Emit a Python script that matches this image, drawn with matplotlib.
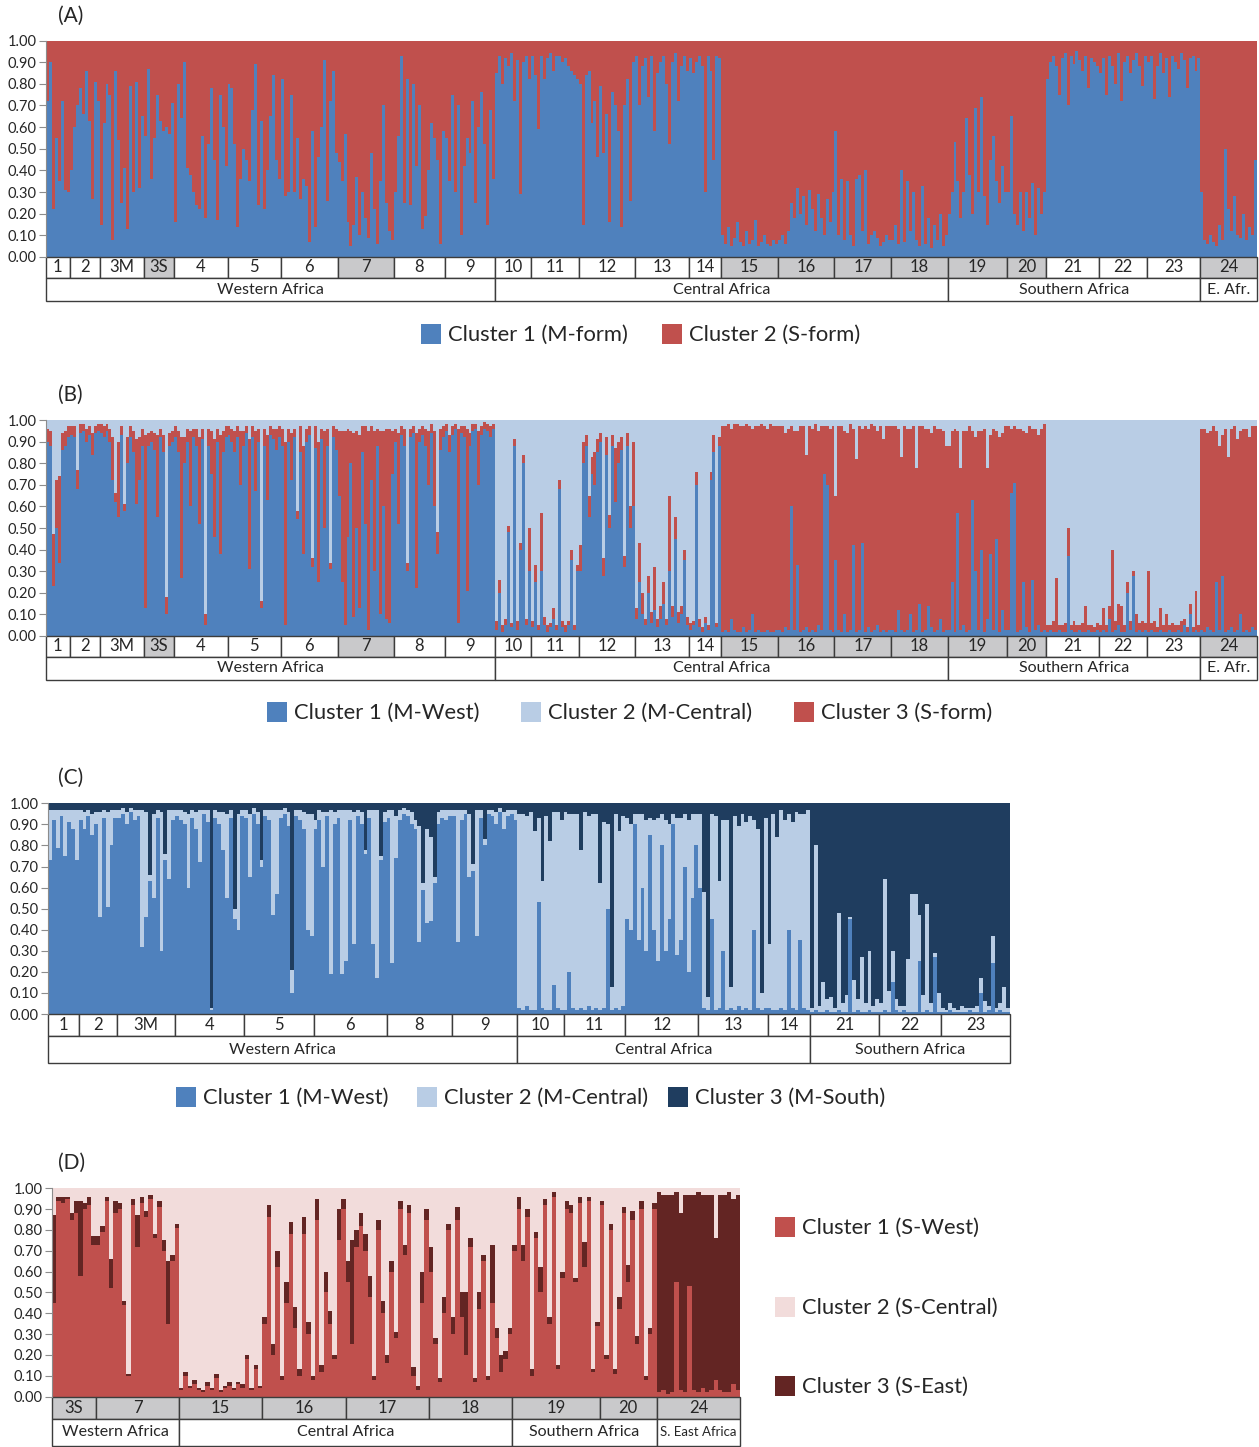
import numpy as np
import matplotlib.pyplot as plt
from matplotlib.patches import Rectangle

plt.rcParams['font.family'] = ['Lato', 'DejaVu Sans']

W, H = 1259, 1447

BLUE = '#4F81BD'
RED = '#C0504D'
LBLUE = '#B9CDE5'
NAVY = '#1F3D5F'
PINK = '#F2DCDB'
DRED = '#632523'
GRAY = '#C9C9CB'
LINE = '#3C3C3C'
TXT = '#262626'

# populations (order as sampled) and the S-form ones that get shaded cells
pops_all = ['1', '2', '3M', '3S', '4', '5', '6', '7', '8', '9', '10', '11', '12',
            '13', '14', '15', '16', '17', '18', '19', '20', '21', '22', '23', '24']
s_form = ['3S', '7', '15', '16', '17', '18', '19', '20', '24']
pops_m = ['1', '2', '3M', '4', '5', '6', '8', '9', '10', '11', '12', '13', '14',
          '21', '22', '23']

regions_ab = [('Western Africa', '1', '9'), ('Central Africa', '10', '18'),
              ('Southern Africa', '19', '23'), ('E. Afr.', '24', '24')]
regions_c = [('Western Africa', '1', '9'), ('Central Africa', '10', '14'),
             ('Southern Africa', '21', '23')]
regions_d = [('Western Africa', '3S', '7'), ('Central Africa', '15', '18'),
             ('Southern Africa', '19', '20'), ('S. East Africa', '24', '24')]

# (A) K=2, % membership in cluster 1 (M-form), one value per individual bar
A_c1 = {
    '1': [72, 90, 22, 55, 35, 72, 31, 30],
    '2': [40, 60, 70, 78, 66, 86, 63, 27, 81, 72],
    '3M': [15, 62, 80, 75, 8, 86, 54, 25, 41, 13, 79, 30, 81, 32, 65],
    '3S': [56, 87, 36, 55, 75, 63, 58, 60, 57, 71],
    '4': [16, 80, 64, 90, 41, 38, 30, 24, 22, 56, 18, 52, 78, 45, 17, 75, 60, 42],
    '5': [80, 78, 52, 14, 36, 50, 45, 35, 68, 89, 24, 63, 22, 40, 65, 84, 45, 36],
    '6': [82, 28, 30, 75, 30, 55, 27, 36, 33, 7, 58, 14, 46, 60, 91, 26, 72, 86, 48],
    '7': [44, 35, 57, 16, 5, 15, 37, 10, 30, 18, 9, 48, 22, 6, 35, 70, 25, 12, 8],
    '8': [30, 56, 93, 25, 82, 24, 80, 42, 70, 13, 19, 40, 62, 55, 45, 6, 58],
    '9': [55, 35, 75, 30, 70, 10, 42, 55, 48, 72, 25, 60, 76, 52, 15, 68, 36],
    '10': [85, 93, 80, 92, 88, 94, 72, 91, 29, 90, 93, 82],
    '11': [93, 84, 59, 93, 82, 92, 94, 86, 93, 93, 90, 92, 88, 86, 84, 82],
    '12': [80, 15, 84, 86, 62, 72, 46, 79, 48, 66, 16, 76, 70, 58, 14, 70, 82, 26, 90],
    '13': [93, 70, 88, 92, 74, 93, 58, 85, 90, 93, 80, 52, 90, 94, 72, 88, 93, 86],
    '14': [92, 85, 90, 93, 88, 30, 93, 86, 45, 93, 92],
    '15': [10, 6, 14, 5, 9, 16, 7, 5, 12, 6, 8, 17, 5, 7, 10, 6, 5, 8, 6],
    '16': [8, 10, 6, 12, 25, 18, 32, 20, 28, 15, 31, 22, 12, 29, 18, 10, 27, 16, 30],
    '17': [58, 10, 36, 8, 35, 10, 5, 36, 38, 12, 40, 6, 10, 12, 9, 5, 7, 10, 8],
    '18': [8, 15, 6, 40, 7, 35, 12, 30, 8, 5, 33, 6, 18, 4, 15, 8, 20, 5, 10],
    '19': [20, 30, 53, 35, 18, 30, 64, 38, 20, 69, 30, 74, 28, 15, 45, 56, 35, 25, 42, 30],
    '20': [30, 65, 20, 15, 30, 12, 30, 18, 34, 10, 32, 20, 30],
    '21': [82, 90, 93, 88, 75, 92, 94, 70, 93, 89, 95, 91, 86, 93, 78, 92, 90, 88],
    '22': [85, 92, 75, 93, 88, 80, 94, 72, 90, 93, 85, 91, 94, 88, 79, 93],
    '23': [90, 93, 73, 88, 94, 85, 92, 74, 93, 90, 87, 94, 91, 78, 92, 93, 86, 92],
    '24': [30, 8, 6, 10, 7, 5, 15, 8, 50, 22, 12, 28, 10, 9, 20, 8, 14, 10, 45],
}

# (B) K=3, cluster 1 (M-West) and cluster 3 (S-form); cluster 2 is the rest
B_c1 = {
    '1': [90, 88, 23, 50, 34, 86, 88, 92],
    '2': [93, 92, 68, 94, 95, 90, 93, 84, 94, 95],
    '3M': [94, 92, 95, 90, 72, 62, 55, 93, 58, 80, 92, 85, 61, 72, 88],
    '3S': [13, 88, 90, 86, 55, 92, 85, 10, 88, 90],
    '4': [92, 85, 27, 80, 90, 60, 92, 88, 52, 91, 5, 88, 75, 46, 90, 38, 85, 92],
    '5': [93, 90, 85, 92, 70, 88, 94, 31, 92, 67, 90, 13, 88, 63, 93, 91, 86, 92],
    '6': [88, 5, 90, 72, 92, 54, 85, 38, 90, 93, 32, 87, 25, 91, 50, 88, 31, 92, 86],
    '7': [65, 25, 5, 46, 80, 9, 50, 13, 85, 52, 3, 72, 30, 88, 10, 60, 8, 6, 75],
    '8': [90, 52, 93, 88, 30, 92, 94, 22, 90, 93, 88, 70, 94, 60, 38, 86, 92],
    '9': [95, 85, 93, 96, 6, 94, 92, 21, 88, 95, 96, 70, 93, 96, 95, 92, 96],
    '10': [3, 20, 2, 5, 48, 4, 88, 3, 40, 80, 5, 30],
    '11': [4, 25, 3, 30, 5, 2, 4, 8, 3, 68, 4, 2, 5, 35, 3, 30],
    '12': [30, 80, 88, 55, 75, 70, 85, 90, 28, 84, 50, 88, 62, 80, 86, 32, 88, 50, 60],
    '13': [8, 25, 10, 5, 20, 6, 12, 4, 8, 15, 5, 30, 9, 45, 6, 10, 35, 5],
    '14': [3, 5, 70, 4, 2, 6, 3, 72, 85, 4, 88],
    '15': [2, 3, 2, 8, 3, 2, 2, 4, 2, 3, 10, 2, 3, 2, 2, 3, 2, 2, 3],
    '16': [3, 2, 4, 3, 60, 3, 33, 2, 3, 4, 2, 3, 2, 5, 3, 75, 70, 3, 2],
    '17': [35, 3, 2, 10, 2, 3, 42, 2, 3, 43, 2, 4, 2, 3, 5, 2, 3, 2, 3],
    '18': [3, 2, 12, 3, 2, 3, 10, 2, 3, 15, 2, 3, 14, 4, 2, 3, 8, 2, 3],
    '19': [3, 25, 2, 57, 3, 5, 2, 3, 63, 30, 3, 40, 2, 8, 38, 3, 45, 2, 12, 3],
    '20': [3, 66, 71, 2, 3, 25, 4, 2, 26, 3, 5, 2, 3],
    '21': [2, 3, 2, 2, 3, 2, 2, 37, 3, 2, 2, 3, 2, 2, 3, 2, 2, 3],
    '22': [2, 3, 2, 8, 2, 3, 5, 2, 2, 20, 3, 28, 2, 3, 2, 3],
    '23': [2, 3, 2, 2, 3, 2, 2, 3, 2, 2, 3, 2, 5, 2, 10, 2, 3, 2],
    '24': [3, 2, 4, 3, 2, 25, 3, 28, 2, 3, 4, 2, 3, 10, 2, 3, 2, 4, 3],
}
B_c3 = {
    '1': [6, 7, 24, 22, 40, 8, 7, 5],
    '2': [4, 5, 9, 4, 3, 6, 4, 10, 3, 3],
    '3M': [4, 5, 3, 6, 20, 4, 35, 4, 3, 12, 5, 10, 30, 20, 8],
    '3S': [80, 6, 5, 8, 38, 4, 8, 8, 6, 5],
    '4': [5, 10, 65, 12, 6, 35, 4, 8, 40, 5, 5, 8, 20, 45, 6, 55, 10, 5],
    '5': [4, 6, 10, 5, 25, 7, 3, 60, 5, 28, 6, 3, 8, 30, 4, 5, 10, 5],
    '6': [8, 85, 6, 22, 4, 4, 12, 50, 6, 4, 4, 10, 65, 5, 45, 8, 3, 5, 10],
    '7': [30, 70, 90, 50, 15, 85, 45, 80, 12, 45, 92, 25, 65, 8, 85, 35, 88, 90, 20],
    '8': [6, 42, 4, 8, 4, 4, 3, 72, 6, 4, 8, 25, 4, 35, 10, 10, 5],
    '9': [3, 8, 4, 2, 90, 3, 5, 75, 6, 3, 2, 25, 4, 3, 3, 5, 2],
    '10': [4, 6, 3, 3, 3, 2, 3, 4, 3, 4, 3, 20],
    '11': [3, 8, 2, 27, 4, 3, 2, 5, 2, 4, 3, 3, 2, 5, 2, 3],
    '12': [12, 10, 5, 10, 8, 15, 6, 4, 8, 8, 6, 5, 25, 10, 6, 5, 6, 10, 30],
    '13': [5, 18, 10, 3, 8, 5, 20, 4, 6, 10, 3, 35, 5, 10, 5, 4, 5, 4],
    '14': [3, 2, 6, 4, 2, 3, 2, 4, 8, 2, 4],
    '15': [95, 94, 96, 88, 95, 96, 95, 93, 96, 94, 86, 95, 94, 96, 95, 93, 96, 95, 94],
    '16': [94, 95, 90, 93, 37, 92, 62, 95, 94, 80, 95, 93, 96, 90, 94, 22, 27, 93, 95],
    '17': [30, 94, 95, 85, 92, 95, 54, 80, 94, 53, 95, 92, 96, 94, 90, 95, 88, 95, 94],
    '18': [94, 95, 84, 80, 95, 93, 86, 95, 75, 82, 95, 93, 82, 90, 95, 93, 88, 93, 85],
    '19': [85, 70, 94, 38, 75, 90, 93, 94, 32, 62, 92, 55, 94, 70, 55, 93, 50, 90, 82, 94],
    '20': [94, 30, 26, 94, 93, 70, 90, 95, 70, 93, 88, 94, 95],
    '21': [3, 2, 5, 25, 2, 3, 4, 13, 2, 5, 3, 2, 4, 12, 2, 3, 2, 3],
    '22': [3, 10, 3, 6, 38, 4, 10, 12, 3, 5, 4, 2, 8, 3, 5, 3],
    '23': [28, 3, 5, 2, 10, 3, 8, 2, 4, 3, 2, 5, 3, 2, 5, 2, 18, 3],
    '24': [93, 94, 90, 92, 95, 70, 85, 65, 94, 80, 92, 95, 88, 85, 94, 93, 90, 93, 94],
}

# (C) M-form only, K=3: cluster 1 (M-West), cluster 2 (M-Central); cluster 3 is the rest
C_c1 = {
    '1': [73, 92, 79, 94, 75, 91, 88, 73],
    '2': [92, 88, 94, 85, 90, 46, 93, 51, 80, 93],
    '3M': [93, 95, 90, 96, 92, 94, 32, 46, 63, 55, 93, 30, 73, 64, 92],
    '4': [94, 92, 90, 60, 93, 88, 72, 95, 91, 2, 93, 90, 78, 55, 93, 45, 40, 94],
    '5': [93, 65, 95, 90, 70, 94, 92, 47, 57, 93, 95, 89, 10, 94, 92, 88, 40, 37],
    '6': [88, 92, 70, 94, 19, 90, 93, 19, 25, 92, 33, 94, 90, 76, 93, 33, 17, 73, 91],
    '8': [93, 24, 74, 92, 95, 94, 90, 88, 34, 59, 43, 44, 62, 90, 93, 92, 94],
    '9': [94, 34, 92, 95, 65, 68, 37, 93, 80, 95, 94, 90, 96, 88, 94, 95, 92],
    '10': [3, 2, 4, 2, 2, 53, 3, 2, 2, 14, 3, 2],
    '11': [2, 20, 3, 2, 3, 2, 4, 2, 3, 2, 3, 50, 2, 3, 2, 4],
    '12': [45, 40, 90, 35, 60, 30, 85, 40, 25, 80, 30, 45, 90, 28, 35, 70, 20, 55, 80],
    '13': [60, 3, 2, 45, 2, 3, 30, 2, 3, 2, 4, 2, 3, 2, 40, 3, 2, 3],
    '14': [3, 2, 2, 3, 2, 40, 3, 2, 35, 3, 2],
    '21': [1, 2, 1, 1, 2, 1, 1, 2, 1, 1, 45, 1, 2, 1, 1, 2, 1, 1],
    '22': [1, 2, 1, 15, 2, 1, 2, 1, 1, 1, 25, 1, 2, 1, 27, 1],
    '23': [1, 1, 2, 1, 1, 1, 1, 2, 1, 1, 10, 1, 2, 24, 1, 2, 1, 1],
}
C_c2 = {
    '1': [24, 5, 18, 3, 22, 6, 9, 24],
    '2': [5, 8, 3, 10, 6, 50, 4, 45, 17, 4],
    '3M': [4, 3, 6, 2, 5, 3, 65, 50, 3, 40, 4, 66, 3, 33, 5],
    '4': [3, 5, 6, 35, 4, 8, 25, 2, 6, 1, 4, 6, 18, 40, 4, 5, 55, 3],
    '5': [4, 30, 3, 6, 3, 3, 5, 50, 40, 4, 3, 7, 11, 3, 5, 8, 55, 58],
    '6': [4, 5, 26, 2, 78, 6, 4, 78, 72, 5, 63, 3, 6, 2, 4, 64, 80, 2, 5],
    '8': [4, 73, 20, 5, 3, 3, 6, 4, 55, 3, 45, 40, 3, 6, 4, 5, 3],
    '9': [3, 63, 5, 2, 30, 3, 60, 4, 3, 2, 3, 6, 2, 8, 3, 2, 5],
    '10': [92, 93, 90, 94, 85, 40, 60, 92, 80, 82, 93, 90],
    '11': [94, 75, 92, 93, 75, 94, 90, 93, 92, 60, 88, 40, 11, 92, 85, 90],
    '12': [48, 50, 5, 60, 35, 62, 8, 52, 68, 15, 62, 45, 5, 65, 58, 25, 72, 40, 15],
    '13': [35, 55, 6, 50, 92, 60, 62, 90, 10, 92, 85, 93, 88, 92, 52, 85, 8, 90],
    '14': [30, 93, 82, 94, 90, 55, 88, 94, 60, 92, 95],
    '21': [2, 78, 3, 14, 5, 7, 2, 46, 4, 8, 1, 15, 5, 26, 4, 28, 3, 6],
    '22': [4, 62, 10, 15, 5, 3, 2, 25, 56, 56, 22, 8, 50, 4, 2, 9],
    '23': [2, 1, 3, 2, 1, 3, 2, 1, 2, 3, 7, 5, 2, 13, 2, 3, 12, 2],
}

# (D) S-form only, K=3: cluster 1 (S-West), cluster 3 (S-East); cluster 2 is the rest
D_c1 = {
    '3S': [45, 94, 93, 95, 85, 88, 58, 90, 92, 73],
    '7': [73, 79, 94, 52, 88, 90, 44, 10, 92, 72, 93, 86, 95, 76, 91, 70, 35, 65, 81],
    '15': [3, 10, 4, 6, 3, 2, 5, 3, 9, 2, 4, 5, 3, 6, 4, 18, 3, 13, 4],
    '16': [35, 86, 20, 62, 8, 45, 78, 33, 10, 78, 30, 8, 85, 12, 50, 35, 18, 75, 90],
    '17': [55, 25, 72, 82, 70, 48, 8, 80, 40, 16, 60, 28, 90, 68, 88, 10, 3, 45, 85],
    '18': [60, 25, 7, 40, 80, 30, 85, 38, 20, 72, 7, 42, 65, 8, 45, 28, 12, 18, 30],
    '19': [70, 90, 65, 86, 10, 76, 50, 92, 35, 96, 13, 57, 90, 88, 55, 93, 62, 94, 12, 34],
    '20': [92, 18, 80, 11, 42, 88, 55, 85, 25, 90, 8, 30, 90],
    '24': [2, 3, 1, 2, 55, 3, 2, 53, 3, 2, 4, 2, 3, 8, 3, 2, 2, 6, 3],
}
D_c3 = {
    '3S': [42, 2, 3, 1, 3, 6, 36, 3, 4, 4],
    '7': [4, 3, 2, 14, 6, 3, 2, 1, 3, 15, 3, 3, 2, 2, 3, 5, 30, 3, 2],
    '15': [1, 2, 1, 2, 1, 1, 2, 1, 2, 1, 1, 2, 1, 1, 2, 2, 1, 2, 1],
    '16': [3, 6, 5, 8, 2, 10, 6, 10, 3, 8, 6, 2, 10, 3, 10, 6, 2, 15, 5],
    '17': [10, 50, 8, 6, 8, 10, 2, 5, 6, 4, 5, 3, 4, 5, 4, 4, 2, 15, 5],
    '18': [12, 3, 2, 8, 3, 8, 6, 12, 30, 4, 2, 8, 3, 2, 28, 5, 8, 4, 3],
    '19': [3, 6, 8, 4, 3, 3, 12, 3, 3, 2, 2, 3, 4, 4, 2, 3, 12, 2, 1, 2],
    '20': [2, 2, 3, 2, 6, 3, 8, 4, 4, 4, 2, 3, 3],
    '24': [96, 94, 96, 95, 43, 85, 95, 44, 94, 96, 93, 95, 94, 68, 94, 95, 96, 89, 94],
}

legend_a = [('Cluster 1 (M-form)', BLUE), ('Cluster 2 (S-form)', RED)]
legend_b = [('Cluster 1 (M-West)', BLUE), ('Cluster 2 (M-Central)', LBLUE),
            ('Cluster 3 (S-form)', RED)]
legend_c = [('Cluster 1 (M-West)', BLUE), ('Cluster 2 (M-Central)', LBLUE),
            ('Cluster 3 (M-South)', NAVY)]
legend_d = [('Cluster 1 (S-West)', RED), ('Cluster 2 (S-Central)', PINK),
            ('Cluster 3 (S-East)', DRED)]

fig = plt.figure(figsize=(W / 100, H / 100), dpi=100)


def panel(box, pops, layers, colors, regions, shaded, letter, small_last=False):
    # box in pixels: left, right, y of 1.00, y of 0.00, end of pop row, end of region row
    left, right, top, zero, row1, bottom = box
    ax = fig.add_axes([left / W, 1 - bottom / H, (right - left) / W, (bottom - top) / H])
    unit = zero - top
    y1 = -(row1 - zero) / unit
    y2 = -(bottom - zero) / unit

    sizes = [len(layers[0][p]) for p in pops]
    starts = np.concatenate([[0], np.cumsum(sizes)[:-1]])
    vals = [np.concatenate([lay[p] for p in pops]) / 100 for lay in layers]
    vals.append(1 - np.sum(vals, axis=0))
    x = np.arange(len(vals[0]))
    base = np.zeros(len(x))
    for v, c in zip(vals, colors):
        ax.bar(x, v, bottom=base, width=1, align='edge', color=c, linewidth=0)
        base = base + v

    # population row
    for p, s0, n in zip(pops, starts, sizes):
        fc = GRAY if p in shaded else 'white'
        ax.add_patch(Rectangle((s0, y1), n, -y1, facecolor=fc, edgecolor=LINE,
                               linewidth=1, clip_on=False))
        ax.text(s0 + n / 2, y1 / 2, p, ha='center', va='center', fontsize=12, color=TXT)
    # region row
    for name, p0, p1 in regions:
        i0, i1 = pops.index(p0), pops.index(p1)
        s0 = starts[i0]
        n = starts[i1] + sizes[i1] - s0
        ax.add_patch(Rectangle((s0, y2), n, y1 - y2, facecolor='white', edgecolor=LINE,
                               linewidth=1, clip_on=False))
        fs = 9.5 if (small_last and name == regions[-1][0]) else 11.5
        ax.text(s0 + n / 2, (y1 + y2) / 2, name, ha='center', va='center',
                fontsize=fs, color=TXT)

    ax.set_xlim(0, len(x))
    ax.set_ylim(y2, 1)
    ax.set_xticks([])
    ax.set_yticks(np.arange(0, 1.01, 0.1))
    ax.set_yticklabels([f'{t:.2f}' for t in np.arange(0, 1.01, 0.1)])
    ax.tick_params(axis='y', length=5, width=0.8, color='#8C8C8C', labelsize=10.5,
                   labelcolor=TXT, pad=2)
    for s in ['top', 'right', 'bottom']:
        ax.spines[s].set_visible(False)
    ax.spines['left'].set_bounds(0, 1)
    ax.spines['left'].set_color('#8C8C8C')
    ax.spines['left'].set_linewidth(0.8)
    fig.text(58 / W, 1 - (top - 25) / H, letter, ha='left', va='center',
             fontsize=15, color=TXT)
    return ax


def legend(items, xs, ys, fs=15.8):
    for (label, c), x0, y0 in zip(items, xs, ys):
        fig.patches.append(Rectangle((x0 / W, 1 - (y0 + 10) / H), 20 / W, 20 / H,
                                     transform=fig.transFigure, facecolor=c,
                                     edgecolor='none'))
        fig.text((x0 + 27) / W, 1 - (y0 + 1) / H, label, ha='left', va='center',
                 fontsize=fs, color=TXT)


pops_s = [p for p in pops_all if p in s_form]

panel((46, 1257, 40.5, 257, 278, 301), pops_all, [A_c1], [BLUE, RED],
      regions_ab, s_form, '(A)')
panel((46, 1257, 420, 636, 657, 680), pops_all, [B_c1, B_c3], [BLUE, RED, LBLUE],
      regions_ab, s_form, '(B)')
panel((48, 1010, 803.3, 1014, 1036, 1063), pops_m, [C_c1, C_c2], [BLUE, LBLUE, NAVY],
      regions_c, [], '(C)')
panel((52, 740, 1188.3, 1396.5, 1419, 1446), pops_s, [D_c1, D_c3], [RED, DRED, PINK],
      regions_d, s_form, '(D)', small_last=True)

legend(legend_a, [421, 662], [334, 334])
legend(legend_b, [267, 521, 794], [712, 712, 712])
legend(legend_c, [176, 417, 668], [1097, 1097, 1097])
legend(legend_d, [775, 775, 775], [1227, 1307, 1386])

fig.savefig('out.png', dpi=100)
